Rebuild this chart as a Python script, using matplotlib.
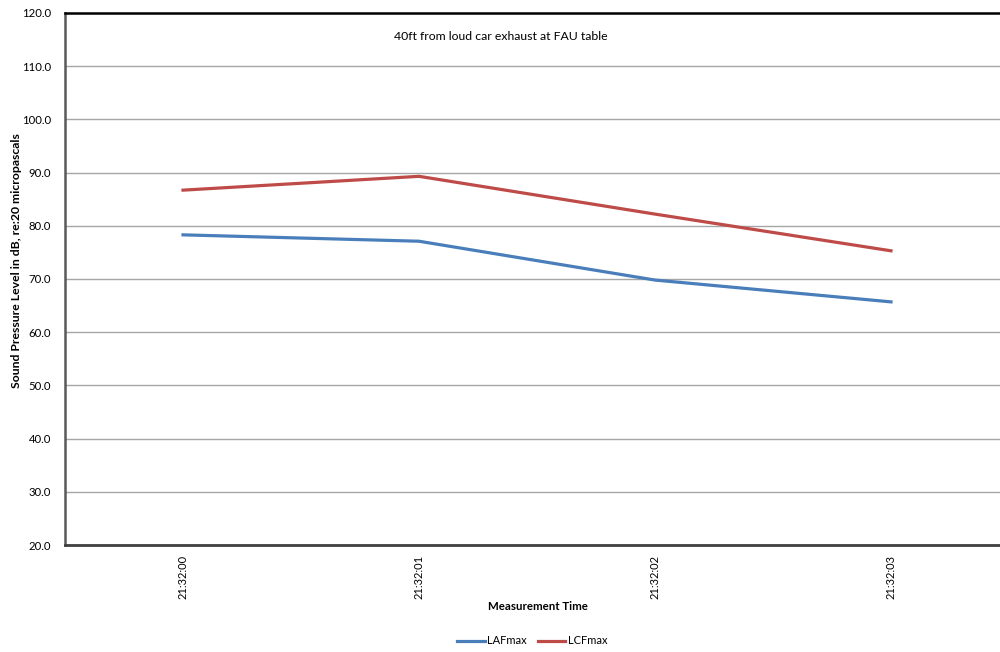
import matplotlib
matplotlib.use('Agg')
import matplotlib.pyplot as plt
import numpy as np

plt.rcParams['font.family'] = ['Lato', 'DejaVu Sans']

####### data
times = ['21:32:00', '21:32:01', '21:32:02', '21:32:03']
LAFmax = [78.3, 77.1, 69.8, 65.7]
LCFmax = [86.7, 89.3, 82.2, 75.3]

W, H = 1000, 652
fig = plt.figure(figsize=(W/100, H/100), dpi=100)
# right side of the plot area runs off the picture, like the reference
ax = fig.add_axes([65/W, 1-545/H, 944/W, (545-13)/H])

x = np.arange(len(times))
ax.plot(x, LAFmax, color='#4a7ebb', lw=2.3, label='LAFmax')
ax.plot(x, LCFmax, color='#be4b48', lw=2.3, label='LCFmax')

ax.set_xlim(-0.5, len(times)-0.5)
ax.set_ylim(20, 120)
ax.set_yticks(np.arange(20, 121, 10))
ax.set_yticklabels(['%.1f' % v for v in np.arange(20, 121, 10)], fontsize=8.2)
ax.set_xticks(x)
ax.set_xticklabels(times, rotation=90, fontsize=8)
ax.tick_params(axis='y', length=0, pad=10)
ax.tick_params(axis='x', length=0, pad=7)
ax.yaxis.grid(True, color='#a6a6a6', lw=1)
ax.set_axisbelow(True)

ax.spines['top'].set_color('black')
ax.spines['top'].set_linewidth(1.8)
ax.spines['left'].set_color('#595959')
ax.spines['left'].set_linewidth(1.8)
ax.spines['bottom'].set_color('#404040')
ax.spines['bottom'].set_linewidth(2)
ax.spines['right'].set_visible(False)

fig.text(501/W, 1-37/H, '40ft from loud car exhaust at FAU table', ha='center', va='center', fontsize=8.8)
fig.text(17/W, 1-261/H, 'Sound Pressure Level in dB, re:20 micropascals', rotation=90,
         ha='center', va='center', fontsize=8.8, fontweight='bold')
fig.text(538/W, 1-606/H, 'Measurement Time', ha='center', va='center', fontsize=8.3, fontweight='bold')

fig.legend(loc='center', bbox_to_anchor=(532/W, 1-641/H), ncol=2, frameon=False, fontsize=8,
           handlelength=2.5, handletextpad=0.2, columnspacing=1.0)

fig.savefig('out.png', dpi=100)
